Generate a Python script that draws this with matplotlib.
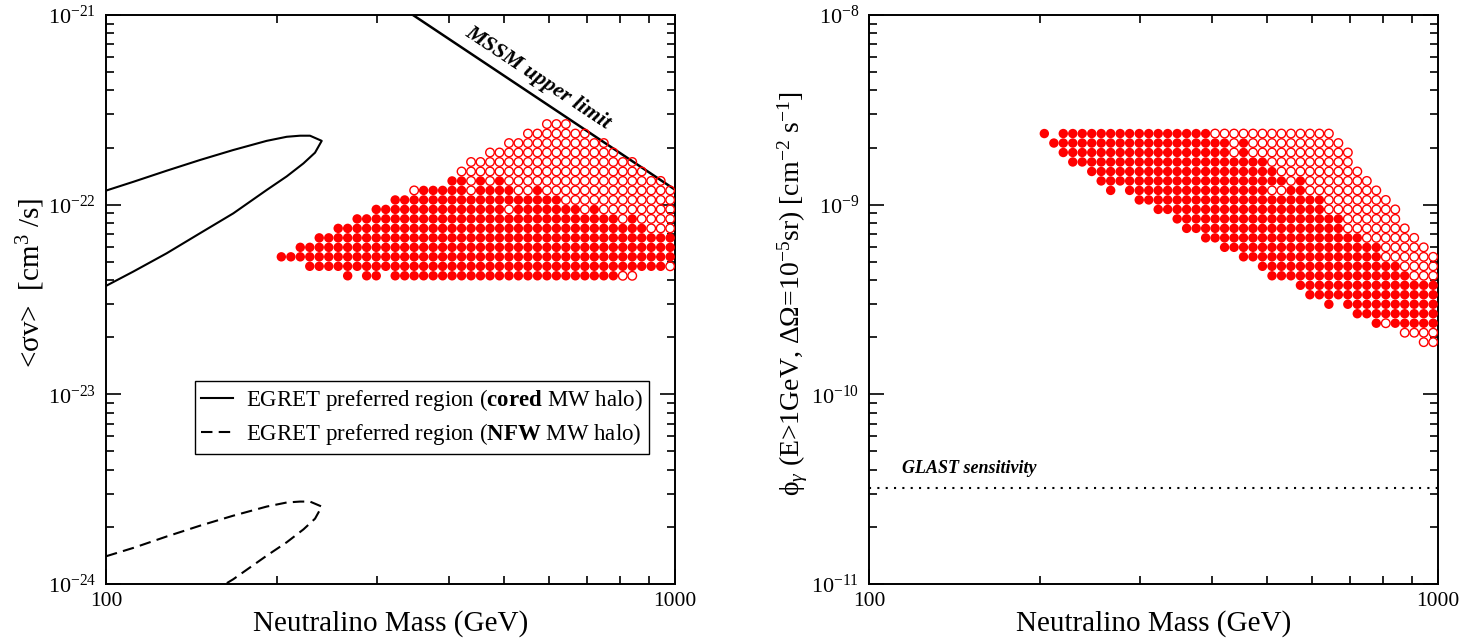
import numpy as np
import matplotlib.pyplot as plt
from matplotlib.ticker import FixedLocator, NullFormatter, LogLocator
from matplotlib.lines import Line2D

plt.rcParams['font.family'] = ['Liberation Serif', 'DejaVu Serif']
plt.rcParams['mathtext.fontset'] = 'custom'
plt.rcParams['mathtext.rm'] = 'Liberation Serif'
plt.rcParams['mathtext.it'] = 'Liberation Serif:italic'
plt.rcParams['mathtext.bf'] = 'Liberation Serif:bold'

# neutralino mass grid of the scan (GeV)
masses = [203.3, 211.3, 219.5, 228.1, 237.0, 246.3, 255.9, 265.9, 276.3, 287.1,
          298.5, 310.2, 322.3, 334.9, 348.0, 361.6, 375.8, 390.5, 405.7, 421.6,
          438.1, 455.2, 473.0, 491.5, 510.8, 530.7, 551.5, 573.1, 595.5, 618.8,
          643.0, 668.2, 694.3, 721.4, 749.7, 779.0, 809.5, 841.1, 874.0, 908.2,
          943.8, 980.7]

# left panel: <sigma v> rows, top to bottom ('#' filled, 'o' open, '.' none)
sigv_rows = [2.661e-22, 2.371e-22, 2.113e-22, 1.884e-22, 1.679e-22, 1.496e-22,
             1.334e-22, 1.189e-22, 1.059e-22, 9.441e-23, 8.414e-23, 7.499e-23,
             6.683e-23, 5.957e-23, 5.309e-23, 4.732e-23, 4.217e-23]
sigv_marks = [
    ".........." ".........." "........oo" "o........." "..",
    ".........." ".........." "......oooo" "ooo......." "..",
    ".........." ".........." "....oooooo" "ooooo....." "..",
    ".........." ".........." "..oooooooo" "oooooo...." "..",
    ".........." ".........." "oooooooooo" "oooooooo.." "..",
    ".........." ".........o" "oooooooooo" "ooooooooo." "..",
    ".........." "........##" "o#o#oooooo" "oooooooooo" "o.",
    ".........." "....o#####" "o####oo#oo" "oooooooooo" "oo",
    ".........." "..########" "##########" "oooooooooo" "oo",
    ".........." "##########" "####o#####" "##o#oooooo" "oo",
    "........##" "##########" "##########" "######o#oo" "oo",
    "......####" "##########" "##########" "#########o" "oo",
    "....######" "##########" "##########" "##########" "##",
    "..########" "##########" "##########" "##########" "##",
    "##########" "##########" "##########" "##########" "##",
    "...#######" "##########" "##########" "##########" "#o",
    ".......#.#" "#.########" "##########" "######oo.." "..",
]

# right panel: gamma flux rows, top to bottom
flux_rows = [2.371e-9, 2.113e-9, 1.884e-9, 1.679e-9, 1.496e-9, 1.334e-9,
             1.189e-9, 1.059e-9, 9.441e-10, 8.414e-10, 7.499e-10, 6.683e-10,
             5.957e-10, 5.309e-10, 4.732e-10, 4.217e-10, 3.758e-10, 3.350e-10,
             2.985e-10, 2.661e-10, 2.371e-10, 2.113e-10, 1.884e-10]
flux_marks = [
    "#.########" "########oo" "oooooooooo" "o........." "..",
    ".#########" "##########" "o#oooooooo" "oo........" "..",
    "..########" "##########" "o#oooooooo" "ooo......." "..",
    "...#######" "##########" "####oooooo" "ooo......." "..",
    ".....#####" "##########" "#####ooooo" "oooo......" "..",
    "......####" "##########" "######o#oo" "ooooo....." "..",
    ".......#.#" "##########" "####oo##oo" "oooooo...." "..",
    ".........." "##########" "##########" "ooooooo..." "..",
    ".........." "..########" "##########" "oooooooo.." "..",
    ".........." "....######" "##########" "##oooooo.." "..",
    ".........." ".....#####" "##########" "##ooooooo." "..",
    ".........." ".......###" "##########" "####oooooo" "..",
    ".........." ".........#" "##########" "######oooo" "o.",
    ".........." ".........." ".#########" "######oooo" "oo",
    ".........." ".........." "...#######" "########oo" "oo",
    ".........." ".........." "....######" "#########o" "oo",
    ".........." ".........." ".......###" "##########" "##",
    ".........." ".........." "........##" "##########" "##",
    ".........." ".........." ".........." "#.########" "##",
    ".........." ".........." ".........." "...#######" "##",
    ".........." ".........." ".........." ".....#o###" "##",
    ".........." ".........." ".........." "........oo" "oo",
    ".........." ".........." ".........." ".........." "oo",
]

# EGRET preferred region, cored halo (closed wedge from the left axis)
cored_m = [100, 111.7, 127.8, 146.3, 167.2, 191.6, 207.8, 219.3, 228.3, 239.4,
           233.0, 222.3, 207.8, 191.6, 167.4, 146.3, 127.8, 111.7, 100]
cored_sv = [1.186e-22, 1.32e-22, 1.51e-22, 1.72e-22, 1.94e-22, 2.17e-22, 2.28e-22,
            2.31e-22, 2.31e-22, 2.17e-22, 1.88e-22, 1.65e-22, 1.41e-22, 1.195e-22,
            9.0e-23, 7.07e-23, 5.54e-23, 4.44e-23, 3.73e-23]
# EGRET preferred region, NFW halo
nfw_m = [100, 111.7, 127.8, 146.3, 167.2, 191.6, 207.8, 219.3, 228.3, 239.4,
         233.0, 222.3, 207.8, 191.6, 167.4, 146.3]
nfw_sv = [1.40e-24, 1.55e-24, 1.78e-24, 2.03e-24, 2.29e-24, 2.56e-24, 2.69e-24,
          2.72e-24, 2.72e-24, 2.56e-24, 2.21e-24, 1.94e-24, 1.66e-24, 1.41e-24,
          1.06e-24, 8.3e-25]

mssm_m = [346.3, 1000]
mssm_sv = [1e-21, 1.2e-22]

glast_flux = 3.21e-11

DASH = (0, (5.5, 3))


def draw_points(ax, rows, marks):
    xf, yf, xo, yo = [], [], [], []
    for y, row in zip(rows, marks):
        assert len(row) == len(masses)
        for m, c in zip(masses, row):
            if c == '#':
                xf.append(m); yf.append(y)
            elif c == 'o':
                xo.append(m); yo.append(y)
    ax.scatter(xf, yf, s=46, c='#ff0000', edgecolors='none', zorder=3)
    ax.scatter(xo, yo, s=38, facecolors='none', edgecolors='#ff0000',
               linewidths=1.0, zorder=3)


def style_axes(ax, ylo, yhi):
    ax.set_xscale('log')
    ax.set_yscale('log')
    ax.set_xlim(100, 1000)
    ax.set_ylim(10.0 ** ylo, 10.0 ** yhi)
    ax.xaxis.set_major_locator(FixedLocator([100, 1000]))
    ax.set_xticklabels(['100', '1000'])
    ax.xaxis.set_minor_locator(FixedLocator([200, 300, 400, 500, 600, 700, 800, 900]))
    ax.xaxis.set_minor_formatter(NullFormatter())
    decs = list(range(ylo, yhi + 1))
    ax.yaxis.set_major_locator(FixedLocator([10.0 ** d for d in decs]))
    ax.set_yticklabels(['$10^{%d}$' % d for d in decs])
    ax.yaxis.set_minor_locator(LogLocator(base=10, subs=np.arange(2, 10)))
    ax.yaxis.set_minor_formatter(NullFormatter())
    ax.tick_params(which='both', direction='in', top=True, right=True, width=1.2,
                   colors='black')
    ax.tick_params(which='major', length=11)
    ax.tick_params(which='minor', length=5.5)
    ax.tick_params(axis='x', which='major', labelsize=15.5, pad=6)
    ax.tick_params(axis='y', which='major', labelsize=16, pad=7)
    for sp in ax.spines.values():
        sp.set_linewidth(1.4)
    ax.set_xlabel('Neutralino Mass (GeV)', fontsize=21)
    ax.xaxis.set_label_coords(0.5, -0.045)


fig = plt.figure(figsize=(14.77, 6.4), dpi=100)
ax1 = fig.add_axes([106 / 1477, 56 / 640, 569 / 1477, 569 / 640])
ax2 = fig.add_axes([869 / 1477, 56 / 640, 569 / 1477, 569 / 640])

# left panel
style_axes(ax1, -24, -21)
draw_points(ax1, sigv_rows, sigv_marks)
ax1.plot(cored_m, cored_sv, color='black', lw=1.5)
ax1.plot(nfw_m, nfw_sv, color='black', lw=1.5, ls=DASH)
ax1.plot(mssm_m, mssm_sv, color='black', lw=1.8)
ax1.text(574, 4.66e-22, 'MSSM upper limit', fontsize=16, fontweight='bold',
         fontstyle='italic', rotation=-33.6, rotation_mode='anchor',
         ha='center', va='center')
ax1.set_ylabel('<σv>  [cm$^{3}$ /s]', fontsize=21)
ax1.yaxis.set_label_coords(-0.104, 0.529)
handles = [Line2D([], [], color='black', lw=1.5),
           Line2D([], [], color='black', lw=1.5, ls=DASH)]
labels = [r'EGRET preferred region ($\mathbf{cored}$ MW halo)',
          r'EGRET preferred region ($\mathbf{NFW}$ MW halo)']
leg = ax1.legend(handles, labels, loc='upper left', bbox_to_anchor=(0.156, 0.357),
                 borderaxespad=0, fontsize=16.5, frameon=True, fancybox=False,
                 edgecolor='black', framealpha=1, handlelength=1.4,
                 handletextpad=0.55, labelspacing=0.35, borderpad=0.28)
leg.get_frame().set_linewidth(1.0)

# right panel
style_axes(ax2, -11, -8)
draw_points(ax2, flux_rows, flux_marks)
ax2.axhline(glast_flux, color='black', lw=1.5, ls=(0, (1, 3)))
ax2.text(114.3, 3.86e-11, 'GLAST sensitivity', fontsize=13, fontweight='bold',
         fontstyle='italic', ha='left', va='baseline')
ax2.set_ylabel('ϕ$_{γ}$ (E>1GeV, ΔΩ=10$^{-5}$sr) [cm$^{-2}$ s$^{-1}$]', fontsize=20)
ax2.yaxis.set_label_coords(-0.104, 0.51)

fig.savefig('out.png', dpi=100)
